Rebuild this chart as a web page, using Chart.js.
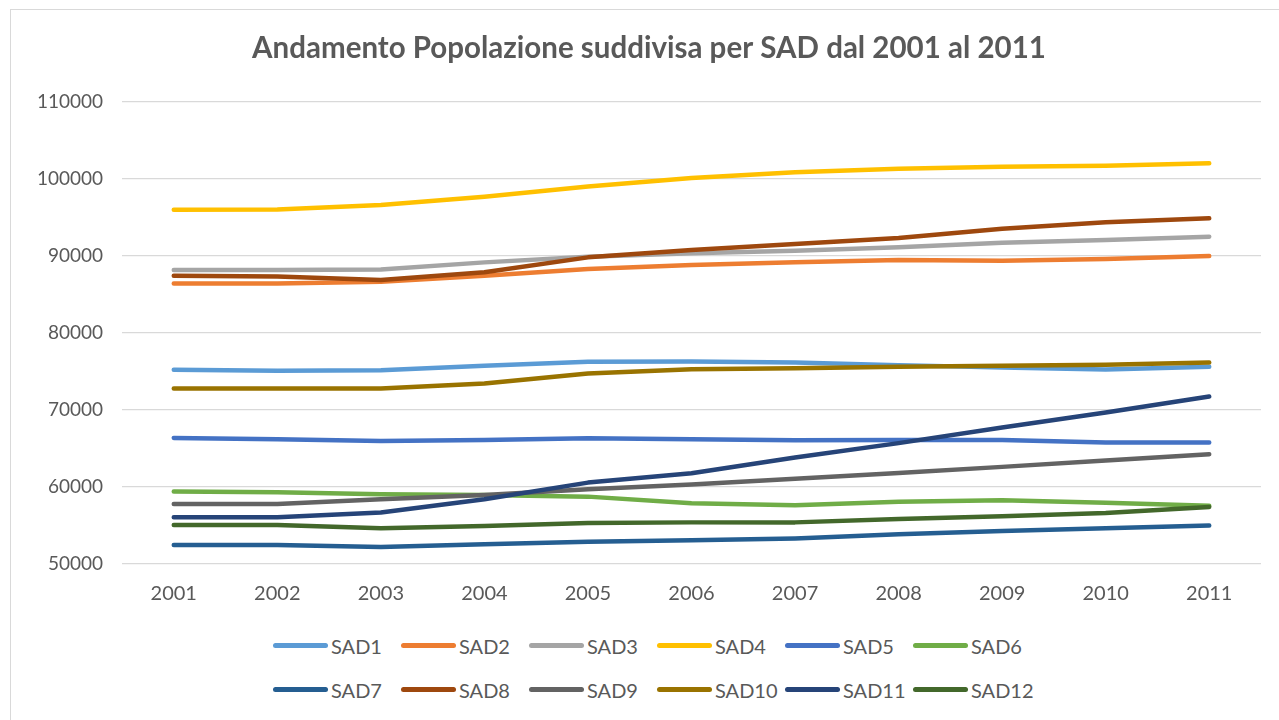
<!DOCTYPE html>
<html lang="it">
<head>
<meta charset="utf-8">
<title>Andamento Popolazione SAD</title>
<script src="https://cdn.jsdelivr.net/npm/chart.js@4.4.1/dist/chart.umd.min.js"></script>
<style>
    html, body { margin: 0; padding: 0; background: #fff; }
    body { width: 1279px; height: 720px; position: relative; overflow: hidden; }
    #frame {
        position: absolute; left: 10px; top: 9px;
        width: 1300px; height: 740px;
        border: 1px solid #d9d9d9; box-sizing: border-box;
    }
    #chartBox { position: absolute; left: 0; top: 0; width: 1279px; height: 624px; }
    #legend {
        position: absolute; left: 273px; top: 633px;
        display: grid; grid-template-columns: repeat(6, 128px);
        row-gap: 19px;
        font-family: Lato, sans-serif; font-size: 20px; color: #595959;
    }
    .item { display: flex; align-items: center; height: 25px; white-space: nowrap; }
    .swatch { width: 55px; height: 5px; border-radius: 3px; margin-right: 3px; }
</style>
</head>
<body>
<div id="frame"></div>
<div id="chartBox"><canvas id="popChart"></canvas></div>
<div id="legend"></div>

<script>
// ── data ─────────────────────────────────────────────────────────────────
const YEARS = ['2001', '2002', '2003', '2004', '2005', '2006', '2007', '2008', '2009', '2010', '2011'];

const SAD1  = [75190, 75060, 75150, 75710, 76230, 76270, 76140, 75800, 75490, 75240, 75580];
const SAD2  = [86400, 86400, 86620, 87400, 88270, 88790, 89130, 89440, 89350, 89570, 89960];
const SAD3  = [88140, 88140, 88220, 89130, 89870, 90300, 90650, 91080, 91690, 92040, 92470];
const SAD4  = [95970, 96000, 96580, 97640, 98960, 100090, 100820, 101260, 101520, 101650, 101990];
const SAD5  = [66360, 66190, 65970, 66100, 66320, 66190, 66060, 66100, 66100, 65750, 65750];
const SAD6  = [59390, 59310, 59050, 58960, 58740, 57880, 57620, 58090, 58270, 57960, 57550];
const SAD7  = [52470, 52470, 52210, 52550, 52900, 53080, 53320, 53850, 54270, 54630, 55000];
const SAD8  = [87400, 87310, 86840, 87840, 89780, 90740, 91520, 92300, 93500, 94330, 94850];
const SAD9  = [57790, 57790, 58400, 58960, 59700, 60300, 61070, 61820, 62600, 63420, 64240];
const SAD10 = [72770, 72770, 72770, 73420, 74720, 75280, 75410, 75580, 75710, 75840, 76140];
const SAD11 = [56060, 56060, 56670, 58400, 60560, 61780, 63810, 65680, 67700, 69650, 71730];
const SAD12 = [55060, 55060, 54640, 54940, 55320, 55400, 55400, 55850, 56200, 56620, 57400];

const SERIES_NAMES = ['SAD1', 'SAD2', 'SAD3', 'SAD4', 'SAD5', 'SAD6',
                      'SAD7', 'SAD8', 'SAD9', 'SAD10', 'SAD11', 'SAD12'];
const SERIES_VALUES = [SAD1, SAD2, SAD3, SAD4, SAD5, SAD6, SAD7, SAD8, SAD9, SAD10, SAD11, SAD12];
const SERIES_COLORS = ['#5B9BD5', '#ED7D31', '#A5A5A5', '#FFC000', '#4472C4', '#70AD47',
                       '#255E91', '#9E480E', '#636363', '#997300', '#264478', '#43682B'];

const Y_MIN = 50000, Y_MAX = 110000, Y_STEP = 10000;

const TEXT_GREY = '#595959';
const PAD_LEFT = 37;   // shifts the title centre; the y axis still puts the plot at x=122

/* later series are painted on top, like the spreadsheet does */
const datasets = SERIES_NAMES.map((name, i) => ({
    label: name,
    data: SERIES_VALUES[i],
    borderColor: SERIES_COLORS[i],
    backgroundColor: SERIES_COLORS[i],
    borderWidth: 4.5,
    borderCapStyle: 'round',
    borderJoinStyle: 'round',
    pointRadius: 0,
    tension: 0,
    order: SERIES_NAMES.length - i,
}));

const chart = new Chart(document.getElementById('popChart').getContext('2d'), {
    type: 'line',
    data: { labels: YEARS, datasets },
    options: {
        responsive: true,
        maintainAspectRatio: false,
        animation: false,
        layout: { padding: { left: PAD_LEFT, right: 18, top: 0, bottom: 0 } },
        plugins: {
            legend: { display: false },
            tooltip: { enabled: false },
            title: {
                display: true,
                text: 'Andamento Popolazione suddivisa per SAD dal 2001 al 2011',
                color: TEXT_GREY,
                font: { family: 'Lato', size: 29.5, weight: 'bold', lineHeight: 1.2 },
                padding: { top: 30.8, bottom: 35.3 },
            },
        },
        scales: {
            x: {
                type: 'category',
                offset: true,
                grid: { display: false, drawTicks: false },
                border: { display: false },
                ticks: {
                    color: TEXT_GREY,
                    font: { family: 'Lato', size: 20 },
                    padding: 18,
                    maxRotation: 0,
                    autoSkip: false,
                },
            },
            y: {
                min: Y_MIN,
                max: Y_MAX,
                grid: { color: '#d9d9d9', lineWidth: 1.3, drawTicks: false },
                border: { display: false },
                ticks: {
                    stepSize: Y_STEP,
                    color: TEXT_GREY,
                    font: { family: 'Lato', size: 19 },
                    padding: 19,
                    callback: v => String(v),
                },
                afterFit: scale => { scale.width = 122 - PAD_LEFT; },
            },
        },
    },
});

// legend in a fixed 6-column grid, built from the chart's own datasets
const legendEl = document.getElementById('legend');
chart.data.datasets.forEach(ds => {
    const item = document.createElement('div');
    item.className = 'item';
    const sw = document.createElement('span');
    sw.className = 'swatch';
    sw.style.background = ds.borderColor;
    const txt = document.createElement('span');
    txt.textContent = ds.label;
    item.appendChild(sw);
    item.appendChild(txt);
    legendEl.appendChild(item);
});
</script>
</body>
</html>
